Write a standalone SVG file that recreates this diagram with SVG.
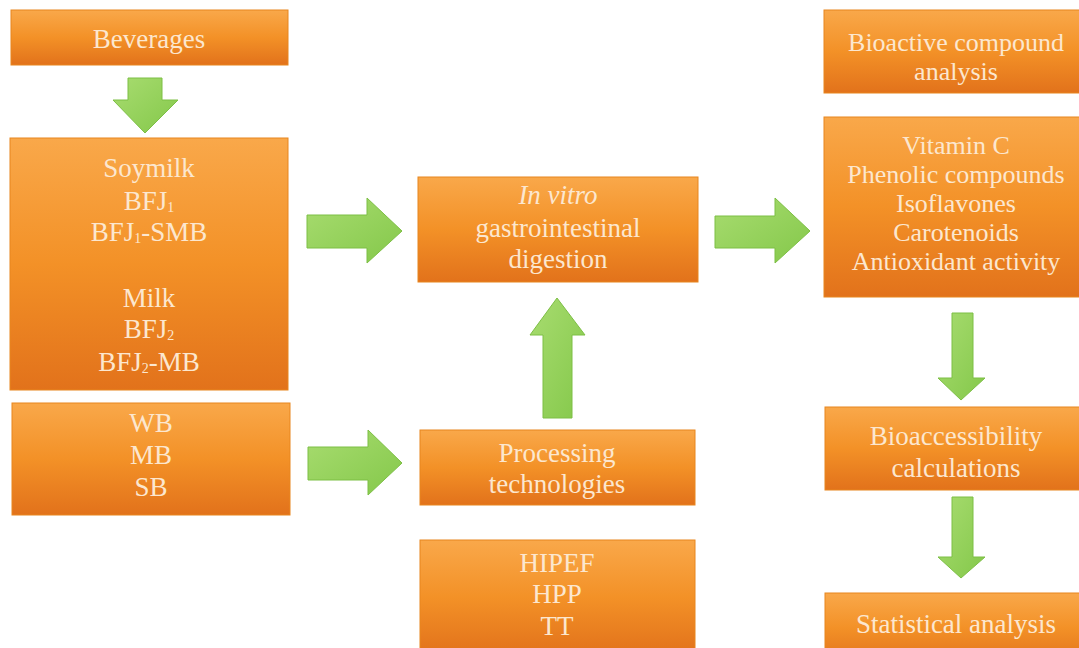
<svg xmlns="http://www.w3.org/2000/svg" width="1079" height="648" viewBox="0 0 1079 648">
<defs>
<linearGradient id="og" x1="0" y1="0" x2="0" y2="1">
<stop offset="0" stop-color="#F9A84A"/>
<stop offset="0.5" stop-color="#F39127"/>
<stop offset="1" stop-color="#E2721B"/>
</linearGradient>
<linearGradient id="gg" x1="0" y1="0" x2="1" y2="1">
<stop offset="0" stop-color="#A8DC70"/>
<stop offset="1" stop-color="#84C84A"/>
</linearGradient>
</defs>
<style>
.box{fill:url(#og);stroke:#E8861F;stroke-width:1}
.t{font-family:"Liberation Serif","Times New Roman",serif;font-size:27px;fill:#FCE7CF;text-anchor:middle}
.s{font-size:26px}
.sub{font-size:14px}
.arr{fill:url(#gg);stroke:#7DBF45;stroke-width:1}
</style>
<rect width="1079" height="648" fill="#FFFFFF"/>
<g id="beverages"><rect class="box" x="11" y="10" width="277" height="55"/><text class="t" x="149" y="48">Beverages</text></g>
<g id="drinks"><rect class="box" x="10" y="138" width="278" height="252"/>
<text class="t" x="149" y="177">Soymilk</text>
<text class="t" x="149" y="210">BFJ<tspan class="sub" dy="2">1</tspan></text>
<text class="t" x="149" y="241">BFJ<tspan class="sub" dy="2">1</tspan><tspan dy="-2">-SMB</tspan></text>
<text class="t" x="149" y="307">Milk</text>
<text class="t" x="149" y="338">BFJ<tspan class="sub" dy="2">2</tspan></text>
<text class="t" x="149" y="371">BFJ<tspan class="sub" dy="2">2</tspan><tspan dy="-2">-MB</tspan></text>
</g>
<g id="blends"><rect class="box" x="12" y="403" width="278" height="112"/>
<text class="t" x="151" y="432">WB</text>
<text class="t" x="151" y="464">MB</text>
<text class="t" x="151" y="496">SB</text>
</g>
<g id="invitro"><rect class="box" x="418" y="177" width="280" height="105"/>
<text class="t" x="558" y="204" font-style="italic">In vitro</text>
<text class="t" x="558" y="237">gastrointestinal</text>
<text class="t" x="558" y="268">digestion</text>
</g>
<g id="processing"><rect class="box" x="420" y="430" width="275" height="75"/>
<text class="t" x="557" y="462">Processing</text>
<text class="t" x="557" y="493">technologies</text>
</g>
<g id="techs"><rect class="box" x="420" y="540" width="275" height="115"/>
<text class="t" x="557" y="572">HIPEF</text>
<text class="t" x="557" y="603">HPP</text>
<text class="t" x="557" y="635">TT</text>
</g>
<g id="bioactive"><rect class="box" x="824" y="10" width="265" height="83"/>
<text class="t s" x="956" y="51">Bioactive compound</text>
<text class="t s" x="956" y="80">analysis</text>
</g>
<g id="compounds"><rect class="box" x="824" y="117" width="265" height="180"/>
<text class="t s" x="956" y="154">Vitamin C</text>
<text class="t s" x="956" y="183">Phenolic compounds</text>
<text class="t s" x="956" y="212">Isoflavones</text>
<text class="t s" x="956" y="241">Carotenoids</text>
<text class="t s" x="956" y="270">Antioxidant activity</text>
</g>
<g id="bioaccess"><rect class="box" x="825" y="407" width="262" height="83"/>
<text class="t" x="956" y="445">Bioaccessibility</text>
<text class="t" x="956" y="477">calculations</text>
</g>
<g id="stats"><rect class="box" x="825" y="593" width="262" height="70"/>
<text class="t" x="956" y="633">Statistical analysis</text>
</g>
<g id="connectors">
<polygon class="arr" points="128,78 162,78 162,100 178,100 145,133 113,100 128,100"/>
<polygon class="arr" points="307,215 367,215 367,198 402,231 367,263 367,248 307,248"/>
<polygon class="arr" points="308,447 368,447 368,430 402,463 368,495 368,480 308,480"/>
<polygon class="arr" points="715,216 775,216 775,198 810,231 775,263 775,248 715,248"/>
<polygon class="arr" points="543,418 572,418 572,335 585,335 557,298 530,335 543,335"/>
<polygon class="arr" points="952,313 973,313 973,378 985,378 961,400 938,378 952,378"/>
<polygon class="arr" points="952,497 973,497 973,557 985,557 961,578 938,557 952,557"/>
</g>
</svg>
